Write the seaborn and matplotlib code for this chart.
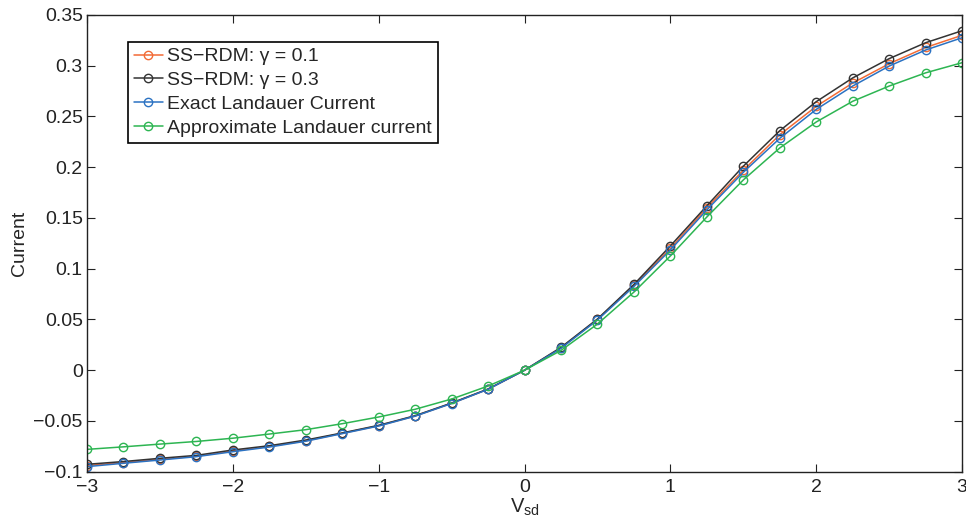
import matplotlib
matplotlib.use("Agg")
import matplotlib.pyplot as plt
import seaborn as sns
import pandas as pd
from matplotlib.ticker import FuncFormatter

# Bias voltage grid
v_sd = [-3, -2.75, -2.5, -2.25, -2, -1.75, -1.5, -1.25, -1, -0.75, -0.5, -0.25,
        0, 0.25, 0.5, 0.75, 1, 1.25, 1.5, 1.75, 2, 2.25, 2.5, 2.75, 3]

# Currents
rdm_g01 = [-0.0940, -0.0910, -0.0878, -0.0847, -0.0796, -0.0751, -0.0695, -0.0622,
           -0.0547, -0.0451, -0.0326, -0.0187, 0.0, 0.0220, 0.0500, 0.0835, 0.1200,
           0.1600, 0.1970, 0.2320, 0.2600, 0.2830, 0.3020, 0.3180, 0.3300]
rdm_g03 = [-0.0927, -0.0900, -0.0868, -0.0839, -0.0786, -0.0744, -0.0688, -0.0618,
           -0.0543, -0.0448, -0.0323, -0.0185, 0.0, 0.0225, 0.0505, 0.0845, 0.1225,
           0.1620, 0.2010, 0.2360, 0.2646, 0.2880, 0.3070, 0.3227, 0.3345]
exact_landauer = [-0.0950, -0.0917, -0.0885, -0.0852, -0.0803, -0.0757, -0.0700, -0.0625,
                  -0.0550, -0.0453, -0.0328, -0.0188, 0.0, 0.0215, 0.0495, 0.0825, 0.1185,
                  0.1580, 0.1950, 0.2285, 0.2570, 0.2800, 0.2997, 0.3155, 0.3276]
approx_landauer = [-0.0780, -0.0755, -0.0728, -0.0702, -0.0670, -0.0629, -0.0586, -0.0527,
                   -0.0461, -0.0385, -0.0284, -0.0156, 0.0, 0.0195, 0.0455, 0.0770, 0.1126,
                   0.1510, 0.1875, 0.2190, 0.2446, 0.2650, 0.2800, 0.2930, 0.3030]

labels = ["SS\u2212RDM: \u03b3 = 0.1", "SS\u2212RDM: \u03b3 = 0.3",
          "Exact Landauer Current", "Approximate Landauer current"]
colors = ["#F26A35", "#333333", "#2B72C2", "#2DB552"]

sns.set_style("ticks")
plt.rcParams['font.family'] = ['Liberation Sans', 'DejaVu Sans']
plt.rcParams['mathtext.fontset'] = 'custom'
plt.rcParams['mathtext.rm'] = 'Liberation Sans'
plt.rcParams['axes.unicode_minus'] = True

fig = plt.figure(figsize=(9.66, 5.24), dpi=100)
ax = fig.add_axes([0.090, 0.0998, 0.906, 0.8716])

series = [rdm_g01, rdm_g03, exact_landauer, approx_landauer]
for vals, lab, col in zip(series, labels, colors):
    df = pd.DataFrame({"V": v_sd, "I": vals})
    sns.lineplot(data=df, x="V", y="I", ax=ax, color=col, label=lab,
                 marker="o", markersize=6, markerfacecolor="none",
                 markeredgecolor=col, markeredgewidth=1.0, linewidth=1.1)

ax.set_xlim(-3, 3)
ax.set_ylim(-0.1, 0.35)
ax.set_xticks([-3, -2, -1, 0, 1, 2, 3])
ax.set_yticks([-0.1, -0.05, 0, 0.05, 0.1, 0.15, 0.2, 0.25, 0.3, 0.35])
fmt = FuncFormatter(lambda v, p: ("%g" % round(v, 4)).replace("-", "\u2212"))
ax.xaxis.set_major_formatter(fmt)
ax.yaxis.set_major_formatter(fmt)
ax.tick_params(direction="in", length=6, width=0.8, labelsize=14,
               top=True, right=True, colors="#222222")
ax.tick_params(axis="x", pad=5)
ax.tick_params(axis="y", pad=3)
for s in ax.spines.values():
    s.set_linewidth(1.0)
    s.set_color("#222222")

ax.set_xlabel("V$_{\\mathregular{sd}}$", fontsize=14.5, labelpad=1)
ax.set_ylabel("Current", fontsize=14, labelpad=4)

leg = ax.legend(loc="upper left", bbox_to_anchor=(0.047, 0.941), borderaxespad=0,
                fontsize=14, handlelength=1.5, handletextpad=0.2,
                labelspacing=0.32, borderpad=0.3, fancybox=False, framealpha=1)
leg.get_frame().set_edgecolor("black")
leg.get_frame().set_linewidth(1.2)

plt.savefig("out.png", dpi=100)
